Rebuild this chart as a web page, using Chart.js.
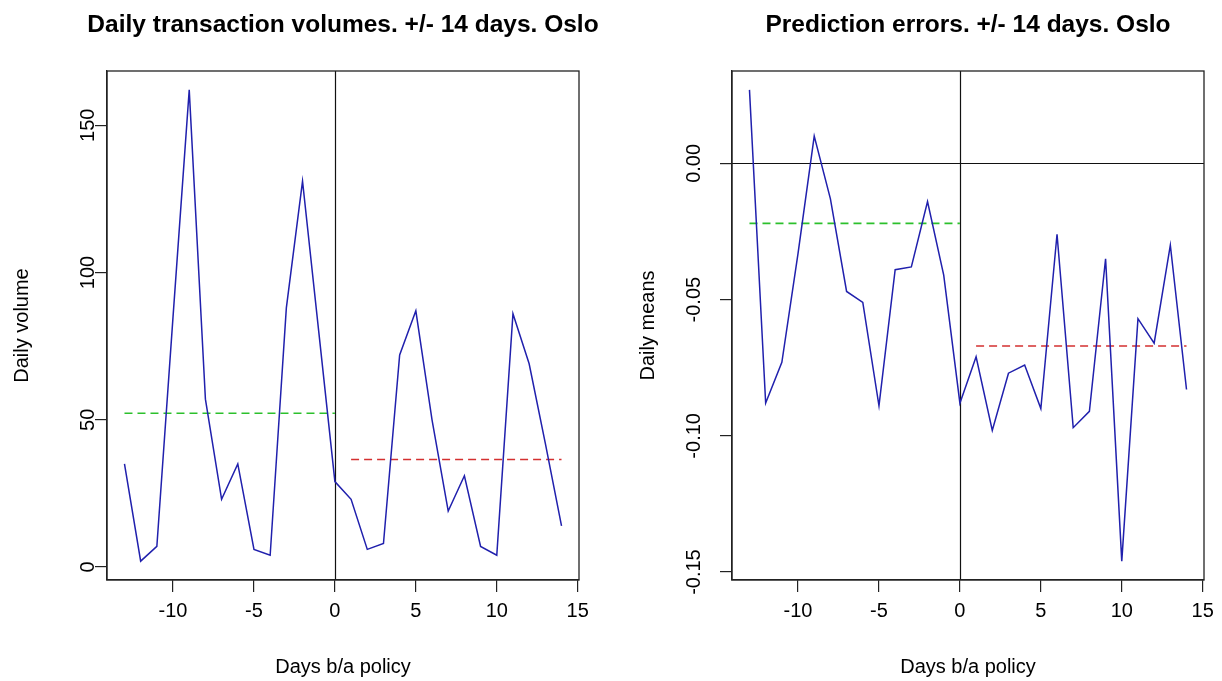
<!DOCTYPE html>
<html>
<head>
<meta charset="utf-8">
<script src="https://cdn.jsdelivr.net/npm/chart.js@4/dist/chart.umd.min.js"></script>
<style>
  body { margin: 0; background: #fff; }
  .panel { position: absolute; top: 0; width: 611px; height: 681px; }
</style>
</head>
<body>
<div class="panel" style="left:0"><canvas id="volChart" width="611" height="681"></canvas></div>
<div class="panel" style="left:611px"><canvas id="errChart" width="611" height="681"></canvas></div>
<script>
// days before/after the policy
const days = [-13, -12, -11, -10, -9, -8, -7, -6, -5, -4, -3, -2, -1, 0,
  1, 2, 3, 4, 5, 6, 7, 8, 9, 10, 11, 12, 13, 14];

// left panel: daily transaction volumes
const volumes = [35, 2, 7, 85, 162, 57, 23, 35, 6, 4, 88, 131, 80, 29,
  23, 6, 8, 72, 87, 50, 19, 31, 7, 4, 86, 69, 42, 14];
const volMeanBefore = 52.2;
const volMeanAfter = 36.5;

// right panel: prediction errors
const errors = [0.027, -0.088, -0.073, -0.033, 0.010, -0.013, -0.047, -0.051, -0.089, -0.039, -0.038, -0.014, -0.041, -0.088,
  -0.071, -0.098, -0.077, -0.074, -0.090, -0.026, -0.097, -0.091, -0.035, -0.146, -0.057, -0.066, -0.030, -0.083];
const errMeanBefore = -0.022;
const errMeanAfter = -0.067;

const beforeDays = [-13, 0];
const afterDays = [1, 14];

const xTicks = [-10, -5, 0, 5, 10, 15];
const volTicks = [0, 50, 100, 150];
const errTicks = [-0.15, -0.10, -0.05, 0.00];

const FONT = "'Liberation Sans', Arial, sans-serif";

// R style axis range: data range padded by 4% on each side
function rRange(vals) {
  const lo = Math.min(...vals), hi = Math.max(...vals);
  const d = (hi - lo) * 0.04;
  return [lo - d, hi + d];
}

// abline(v=0) / abline(h=0), the plot box and the main title, base-R style
const rDecor = {
  id: "rDecor",
  beforeDatasetsDraw(chart, args, opts) {
    const { ctx, chartArea: a, scales: { x, y } } = chart;
    ctx.save();
    ctx.strokeStyle = "#111";
    ctx.lineWidth = 1.2;
    ctx.beginPath();
    const px = Math.round(x.getPixelForValue(0)) + 0.5;
    ctx.moveTo(px, a.top);
    ctx.lineTo(px, a.bottom);
    if (opts.hZero) {
      const py = Math.round(y.getPixelForValue(0)) + 0.5;
      ctx.moveTo(a.left, py);
      ctx.lineTo(a.right, py);
    }
    ctx.stroke();
    ctx.restore();
  },
  afterDraw(chart, args, opts) {
    const { ctx, chartArea: a } = chart;
    ctx.save();
    ctx.strokeStyle = "#222";
    ctx.lineWidth = 1.3;
    ctx.strokeRect(a.left, a.top, a.right - a.left, a.bottom - a.top);
    ctx.fillStyle = "#000";
    ctx.font = "bold 24.5px " + FONT;
    ctx.textAlign = "center";
    ctx.textBaseline = "alphabetic";
    ctx.fillText(opts.title, (a.left + a.right) / 2, 32);
    ctx.restore();
  }
};

function makeChart(id, cfg) {
  const yr = rRange(cfg.values);
  const xr = rRange(days);
  const pts = days.map((d, i) => ({ x: d, y: cfg.values[i] }));
  return new Chart(document.getElementById(id), {
    type: "scatter",
    data: {
      datasets: [
        {
          data: pts, showLine: true, borderColor: "#2020ad", borderWidth: 1.5,
          pointRadius: 0, order: 1
        },
        {
          data: beforeDays.map(d => ({ x: d, y: cfg.meanBefore })), showLine: true,
          borderColor: "#2cc02c", borderWidth: 1.6, borderDash: [8, 5], pointRadius: 0, order: 2
        },
        {
          data: afterDays.map(d => ({ x: d, y: cfg.meanAfter })), showLine: true,
          borderColor: "#d43030", borderWidth: 1.6, borderDash: [8, 5], pointRadius: 0, order: 2
        }
      ]
    },
    options: {
      responsive: false,
      animation: false,
      layout: { padding: { left: 0, right: cfg.rightPad, top: 71, bottom: 0 } },
      plugins: {
        legend: { display: false },
        tooltip: { enabled: false },
        title: { display: false },
        rDecor: { hZero: cfg.hZero, title: cfg.title }
      },
      scales: {
        x: {
          type: "linear",
          min: xr[0], max: xr[1],
          afterBuildTicks: s => { s.ticks = xTicks.map(v => ({ value: v })); },
          afterFit: s => { s.height = 101; },
          grid: { drawOnChartArea: false, drawTicks: true, tickLength: 12, color: "#222", lineWidth: 1.2 },
          border: { display: true, color: "#222", width: 1.3 },
          ticks: { color: "#000", font: { family: FONT, size: 20 }, padding: 7, maxRotation: 0 },
          title: {
            display: true, text: "Days b/a policy", color: "#000",
            font: { family: FONT, size: 20 }, padding: { top: 0, bottom: 2 }
          }
        },
        y: {
          type: "linear",
          min: yr[0], max: yr[1],
          afterBuildTicks: s => { s.ticks = cfg.ticks.map(v => ({ value: v })); },
          afterFit: s => { s.width = cfg.yWidth; },
          grid: { drawOnChartArea: false, drawTicks: true, tickLength: 12, color: "#222", lineWidth: 1.2 },
          border: { display: true, color: "#222", width: 1.3 },
          ticks: {
            color: "#000", font: { family: FONT, size: 20 },
            minRotation: 90, maxRotation: 90, crossAlign: "center",
            padding: cfg.tickPad,
            callback: cfg.fmt
          },
          title: {
            display: true, text: cfg.ylab, color: "#000",
            font: { family: FONT, size: 20 }, padding: { top: cfg.titlePad, bottom: 0 }
          }
        }
      }
    },
    plugins: [rDecor]
  });
}

document.addEventListener("DOMContentLoaded", () => {
  makeChart("volChart", {
    values: volumes, meanBefore: volMeanBefore, meanAfter: volMeanAfter,
    title: "Daily transaction volumes. +/- 14 days. Oslo",
    ylab: "Daily volume", ticks: volTicks, fmt: v => String(v),
    yWidth: 107, rightPad: 32, tickPad: -9.7, titlePad: 10, hZero: false
  });
  makeChart("errChart", {
    values: errors, meanBefore: errMeanBefore, meanAfter: errMeanAfter,
    title: "Prediction errors. +/- 14 days. Oslo",
    ylab: "Daily means", ticks: errTicks, fmt: v => v.toFixed(2),
    yWidth: 121, rightPad: 18, tickPad: 3.2, titlePad: 25, hZero: true
  });
});
</script>
</body>
</html>
